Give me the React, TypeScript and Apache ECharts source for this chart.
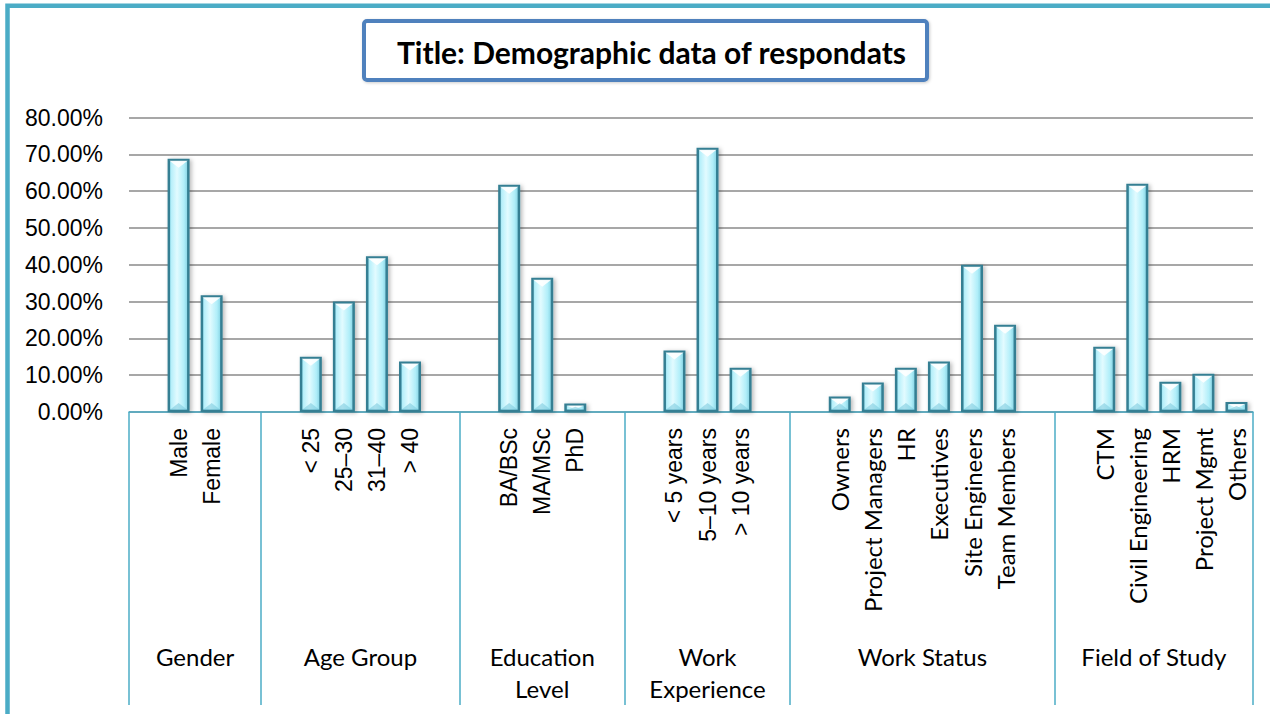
import React, { useEffect, useRef } from 'react';
import * as echarts from 'echarts';

// ---- Data (percent of respondents) ----
const groupNames = ['Gender', 'Age Group', 'Education\nLevel', 'Work\nExperience', 'Work Status', 'Field of Study'];

const genderLabels = ['Male', 'Female'];
const genderValues = [68.8, 31.7];

const ageLabels = ['< 25', '25–30', '31–40', '> 40'];
const ageValues = [15.0, 30.0, 42.3, 13.7];

const educationLabels = ['BA/BSc', 'MA/MSc', 'PhD'];
const educationValues = [61.7, 36.5, 2.3];

const experienceLabels = ['< 5 years', '5–10 years', '> 10 years'];
const experienceValues = [16.7, 71.8, 12.0];

const statusLabels = ['Owners', 'Project Managers', 'HR', 'Executives', 'Site Engineers', 'Team Members'];
const statusValues = [4.2, 8.0, 12.0, 13.7, 40.0, 23.7];

const fieldLabels = ['CTM', 'Civil Engineering', 'HRM', 'Project Mgmt', 'Others'];
const fieldValues = [17.7, 62.0, 8.2, 10.4, 2.7];

const yMin = 0;
const yMax = 80;
const yStep = 10;

const titleText = 'Title: Demographic data of respondats';

// ---- Build slot layout (blank slot before each group, after all but last) ----
const groupDefs = [
  { labels: genderLabels, values: genderValues, font: 'a' },
  { labels: ageLabels, values: ageValues, font: 'a' },
  { labels: educationLabels, values: educationValues, font: 'a' },
  { labels: experienceLabels, values: experienceValues, font: 'a' },
  { labels: statusLabels, values: statusValues, font: 'b' },
  { labels: fieldLabels, values: fieldValues, font: 'b' },
];

const slotLabels: string[] = [];
const slotValues: (number | null)[] = [];
const slotFont: string[] = [];
const boundaries: number[] = [];
const centers: number[] = [];
groupDefs.forEach((g, gi) => {
  const start = slotLabels.length;
  boundaries.push(start);
  slotLabels.push(''); slotValues.push(null); slotFont.push('a');
  g.labels.forEach((l, i) => {
    slotLabels.push(l);
    slotValues.push(g.values[i]);
    slotFont.push(g.font);
  });
  if (gi < groupDefs.length - 1) {
    slotLabels.push(''); slotValues.push(null); slotFont.push('a');
  }
  centers.push((start + slotLabels.length) / 2);
});
const totalSlots = slotLabels.length;

const AXIS_BLUE = '#4bacc6';
const BAR_W = 22;

export default function App() {
  const ref = useRef<HTMLDivElement>(null);

  useEffect(() => {
    if (!ref.current) return;
    const chart = echarts.init(ref.current, null, { renderer: 'svg' });
    const option: any = {
      animation: false,
      backgroundColor: '#ffffff',
      grid: { left: 129, right: 17, top: 117.5, bottom: 302 },
      xAxis: [
        {
          type: 'category',
          position: 'bottom',
          data: slotLabels.map((l, i) => (l === '' ? 'blank' + i : l)),
          boundaryGap: true,
          axisLine: { show: true, lineStyle: { color: AXIS_BLUE, width: 1.5 } },
          axisTick: {
            show: true,
            interval: (index: number) => boundaries.includes(index),
            length: 293,
            lineStyle: { color: AXIS_BLUE, width: 1.5 },
          },
          axisLabel: {
            interval: 0,
            rotate: 90,
            margin: 16,
            color: '#000',
            formatter: (_v: string, i: number) =>
              slotLabels[i] ? `{${slotFont[i]}|${slotLabels[i]}}` : '',
            rich: {
              a: { fontFamily: 'Liberation Sans', fontSize: 23, color: '#000' },
              b: { fontFamily: 'Lato', fontSize: 24, color: '#000' },
            },
          },
          splitLine: { show: false },
        },
        {
          type: 'value',
          position: 'bottom',
          min: 0,
          max: totalSlots,
          axisLine: { show: false },
          axisTick: { show: false },
          splitLine: { show: false },
          axisLabel: {
            customValues: centers,
            margin: 228,
            fontFamily: 'Lato',
            fontSize: 24,
            lineHeight: 32,
            color: '#000',
            align: 'center',
            formatter: (v: number) => {
              const k = centers.indexOf(v);
              return k >= 0 ? groupNames[k] : '';
            },
          },
        },
      ],
      yAxis: {
        type: 'value',
        min: yMin,
        max: yMax,
        interval: yStep,
        axisLine: { show: false },
        axisTick: { show: false },
        axisLabel: {
          margin: 26,
          fontFamily: 'Liberation Sans',
          fontSize: 23,
          color: '#000',
          formatter: (v: number) => v.toFixed(2) + '%',
        },
        splitLine: { show: true, lineStyle: { color: '#8a8a8a', width: 1.5 } },
      },
      series: [
        {
          type: 'bar',
          xAxisIndex: 0,
          yAxisIndex: 0,
          data: slotValues,
          barWidth: BAR_W,
          itemStyle: {
            color: new echarts.graphic.LinearGradient(0, 0, 1, 0, [
              { offset: 0, color: '#7fd3e4' },
              { offset: 0.12, color: '#b6effa' },
              { offset: 0.42, color: '#e2fbff' },
              { offset: 0.78, color: '#b0eef9' },
              { offset: 1, color: '#7fcfe0' },
            ]),
            borderColor: '#357f93',
            borderWidth: 2.5,
            shadowColor: 'rgba(0,0,0,0.28)',
            shadowBlur: 4,
            shadowOffsetX: 2,
            shadowOffsetY: 1,
          },
        },
        {
          type: 'custom',
          xAxisIndex: 0,
          yAxisIndex: 0,
          silent: true,
          z: 3,
          data: slotValues.map((v, i) => [i, v]),
          renderItem: (params: any, api: any) => {
            const val = api.value(1);
            if (val === null || val === undefined || isNaN(val)) return null;
            const top = api.coord([api.value(0), val]);
            const base = api.coord([api.value(0), 0]);
            const h = base[1] - top[1];
            const bevel = Math.min(7, h / 2 - 1);
            const half = BAR_W / 2 - 2;
            const cx = top[0];
            return {
              type: 'group',
              children: [
                {
                  type: 'polygon',
                  shape: {
                    points: [
                      [cx - half, top[1] + 2],
                      [cx + half, top[1] + 2],
                      [cx, top[1] + 2 + bevel],
                    ],
                  },
                  style: { fill: 'rgba(255,255,255,0.9)' },
                },
                {
                  type: 'polygon',
                  shape: {
                    points: [
                      [cx - half, base[1] - 2],
                      [cx + half, base[1] - 2],
                      [cx, base[1] - 2 - bevel],
                    ],
                  },
                  style: { fill: 'rgba(120,200,220,0.55)' },
                },
              ],
            };
          },
        },
      ],
      graphic: [
        {
          type: 'rect',
          z: -1,
          silent: true,
          shape: { x: 7.5, y: 5.8, width: 1400, height: 900 },
          style: { fill: 'none', stroke: AXIS_BLUE, lineWidth: 4.5 },
        },
        {
          type: 'rect',
          silent: true,
          shape: { x: 364, y: 21, width: 563, height: 59, r: 3 },
          style: {
            fill: '#ffffff',
            stroke: '#4f81bd',
            lineWidth: 4,
            shadowColor: 'rgba(0,0,0,0.2)',
            shadowBlur: 3,
            shadowOffsetX: 1,
            shadowOffsetY: 1,
          },
        },
        {
          type: 'text',
          silent: true,
          x: 397,
          y: 52,
          style: {
            text: titleText,
            fontFamily: 'Lato',
            fontWeight: 'bold',
            fontSize: 30,
            fill: '#000',
            textVerticalAlign: 'middle',
            textAlign: 'left',
          },
        },
      ],
    };
    chart.setOption(option);
    return () => chart.dispose();
  }, []);

  return (
    <div
      ref={ref}
      style={{ position: 'absolute', left: 0, top: 0, width: 1270, height: 714 }}
    />
  );
}
